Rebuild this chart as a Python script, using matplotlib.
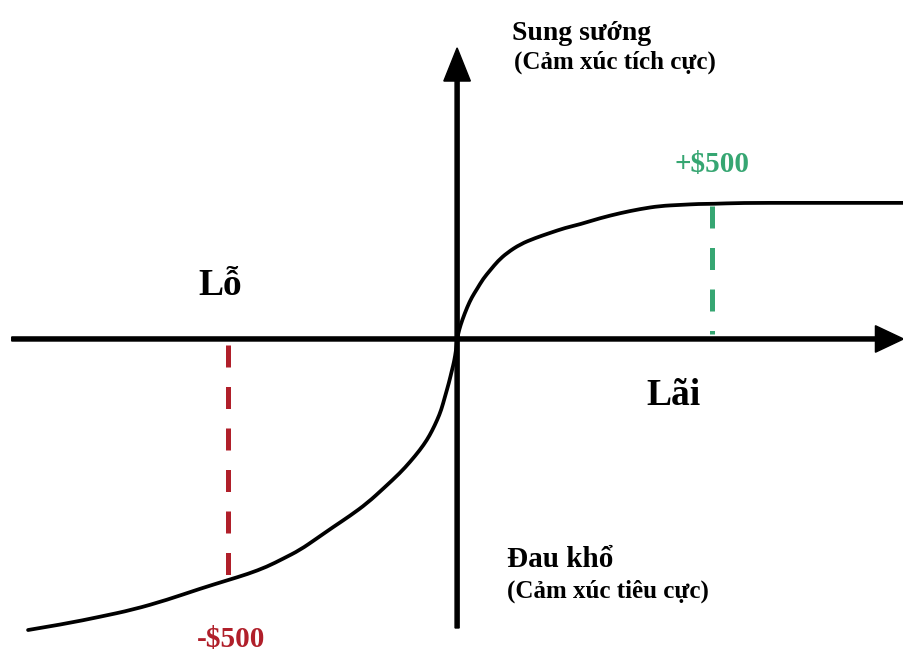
import matplotlib
matplotlib.use('Agg')
import matplotlib.pyplot as plt
from matplotlib.path import Path
from matplotlib.patches import PathPatch

# value function (arbitrary units, origin at the axes crossing)
loss_x = [-8.41, -7.69, -7.0, -6.35, -5.69, -5.04, -4.49, -4.10, -3.73, -3.41,
          -3.08, -2.76, -2.43, -2.10, -1.76, -1.43, -1.12, -0.92, -0.73, -0.59,
          -0.49, -0.39, -0.31, -0.24, -0.16, -0.10, -0.06, -0.02, 0.0]
loss_y = [-5.71, -5.59, -5.45, -5.31, -5.12, -4.90, -4.73, -4.61, -4.47, -4.31,
          -4.14, -3.92, -3.69, -3.47, -3.22, -2.92, -2.63, -2.41, -2.18, -1.98,
          -1.80, -1.59, -1.39, -1.14, -0.86, -0.61, -0.45, -0.22, 0.0]
gain_x = [0.0, 0.04, 0.10, 0.20, 0.29, 0.39, 0.51, 0.65, 0.80, 0.98, 1.24, 1.53,
          1.82, 2.12, 2.41, 2.80, 3.20, 3.59, 3.98, 4.37, 4.75, 5.0, 5.55, 6.73, 8.76]
gain_y = [0.0, 0.18, 0.37, 0.63, 0.82, 0.98, 1.18, 1.35, 1.53, 1.69, 1.86, 1.98,
          2.08, 2.18, 2.25, 2.37, 2.47, 2.55, 2.61, 2.63, 2.65, 2.65, 2.67, 2.67, 2.67]

loss_mark = -4.49
gain_mark = 5.0
loss_label = '-$500'
gain_label = '+$500'

RED = '#b01f2a'
GREEN = '#36a672'
SERIF = ['Liberation Serif', 'DejaVu Serif']


def smooth_path(xs, ys):
    # quadratic bezier through midpoints, the read points act as control points
    pts = list(zip(xs, ys))
    verts = [pts[0]]
    codes = [Path.MOVETO]
    for i in range(1, len(pts) - 1):
        mid = ((pts[i][0] + pts[i + 1][0]) / 2, (pts[i][1] + pts[i + 1][1]) / 2)
        if i == len(pts) - 2:
            mid = pts[-1]
        verts += [pts[i], mid]
        codes += [Path.CURVE3, Path.CURVE3]
    return Path(verts, codes)


fig = plt.figure(figsize=(9.04, 6.55), dpi=100)
ax = fig.add_axes([0, 0, 1, 1])
ax.set_xlim(-8.96, 8.76)
ax.set_ylim(-6.2, 6.65)
ax.axis('off')

# axes with arrow heads
ax.arrow(-8.73, 0, 17.48, 0, width=0.08, head_width=0.52, head_length=0.55,
         length_includes_head=True, color='black', zorder=3)
ax.arrow(0, -5.67, 0, 11.38, width=0.08, head_width=0.52, head_length=0.65,
         length_includes_head=True, color='black', zorder=3)

# curve
curve = smooth_path(loss_x + gain_x[1:], loss_y + gain_y[1:])
ax.add_patch(PathPatch(curve, facecolor='none', edgecolor='black', lw=2.7,
                       capstyle='round', joinstyle='round', zorder=4))

# dashed markers
ax.plot([loss_mark, loss_mark], [-0.12, -4.66], color=RED, lw=3.6,
        dashes=(4.4, 3.9), zorder=2)
ax.plot([gain_mark, gain_mark], [2.6, 0.1], color=GREEN, lw=3.6,
        dashes=(4.4, 3.9), zorder=2)

ax.text(gain_mark, 3.28, gain_label.replace('$', r'\$'), color=GREEN,
        fontsize=21, fontweight='bold', family=SERIF, ha='center', va='baseline')
ax.text(loss_mark + 0.05, -6.05, loss_label.replace('$', r'\$'), color=RED,
        fontsize=21, fontweight='bold', family=SERIF, ha='center', va='baseline')

ax.text(-4.65, 0.86, 'Lỗ', fontsize=27, fontweight='bold', family=SERIF,
        ha='center', va='baseline')
ax.text(4.25, -1.29, 'Lãi', fontsize=27, fontweight='bold', family=SERIF,
        ha='center', va='baseline')

ax.text(1.08, 5.86, 'Sung sướng', fontsize=20, fontweight='bold', family=SERIF,
        ha='left', va='baseline')
ax.text(1.12, 5.31, '(Cảm xúc tích cực)', fontsize=18, fontweight='bold',
        family=SERIF, ha='left', va='baseline')
ax.text(0.98, -4.47, 'Đau khổ', fontsize=21, fontweight='bold', family=SERIF,
        ha='left', va='baseline')
ax.text(0.98, -5.08, '(Cảm xúc tiêu cực)', fontsize=18, fontweight='bold',
        family=SERIF, ha='left', va='baseline')

fig.savefig('out.png', dpi=100, facecolor='white')
